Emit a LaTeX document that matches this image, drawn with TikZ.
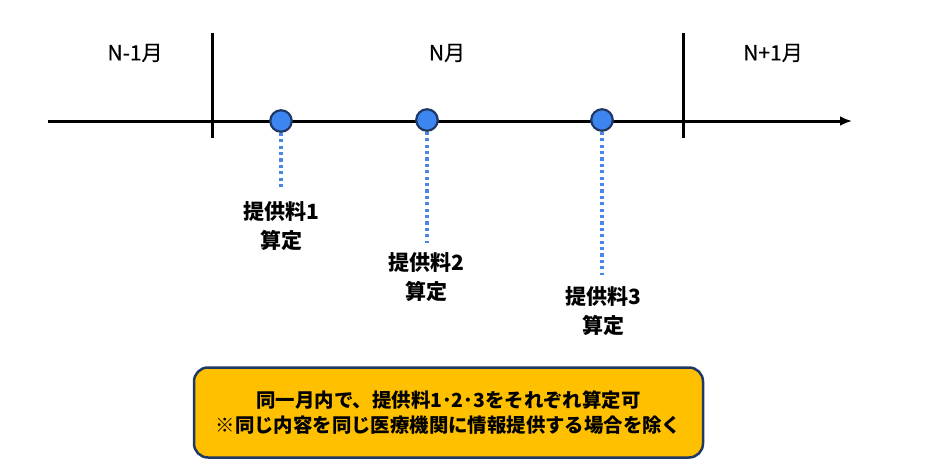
\documentclass[tikz,border=0pt]{standalone}
\usepackage{fontspec}
\setmainfont{Noto Sans CJK JP}
\newfontfamily\medfont[FakeBold=0.5]{Noto Sans CJK JP}
\usetikzlibrary{arrows.meta}
\definecolor{dotblue}{HTML}{4A86E8}
\definecolor{circfill}{HTML}{3D85F0}
\definecolor{navy}{HTML}{1F3864}
\definecolor{boxfill}{HTML}{FFC000}
\tikzset{
  axisline/.style={line width=3pt, black},
  tickline/.style={line width=3pt, black},
  event/.style={circle, draw=navy, fill=circfill, line width=2.2pt, minimum size=21.5pt, inner sep=0pt},
  guide/.style={dotblue, line width=3.2pt, dash pattern=on 3.2pt off 3.2pt},
  lbl/.style={font=\bfseries\fontsize{21}{29}\selectfont, align=center, inner sep=0pt},
  month/.style={font=\medfont\fontsize{21}{24}\selectfont, inner sep=0pt},
  notebox/.style={draw=navy, fill=boxfill, line width=2.5pt, rounded corners=14pt, minimum width=509pt, minimum height=90pt, align=center, font=\bfseries\fontsize{19.4}{25.5}\selectfont, inner sep=0pt}
}
\begin{document}
\begin{tikzpicture}[x=1pt,y=-1pt]
\useasboundingbox (0,0) rectangle (946,466);
% axis
\coordinate (axs) at (48,121);
\coordinate (axe) at (852,121);
\draw[axisline, -{Latex[length=12pt,width=10pt]}] (axs) -- (axe);
% ticks
\coordinate (t1a) at (212,33); \coordinate (t1b) at (212,138);
\coordinate (t2a) at (683,33); \coordinate (t2b) at (683,138);
\draw[tickline] (t1a) -- (t1b);
\draw[tickline] (t2a) -- (t2b);
% months
\node[month] (m1) at (135,53) {N-1月};
\node[month] (m2) at (447,53) {N月};
\node[month] (m3) at (773,53) {N+1月};
% guides end points
\coordinate (g1) at (281,190);
\coordinate (g2) at (427,243);
\coordinate (g3) at (602,275);
% event circles
\node[event] (e1) at (281,121) {};
\node[event] (e2) at (427,120) {};
\node[event] (e3) at (602,120) {};
\draw[guide] (e1.south) -- (g1);
\draw[guide] (e2.south) -- (g2);
\draw[guide] (e3.south) -- (g3);
% labels
\node[lbl] (l1) at (281,226.5) {提供料1\\算定};
\node[lbl] (l2) at (426,277) {提供料2\\算定};
\node[lbl] (l3) at (603,311.5) {提供料3\\算定};
% note
\node[notebox] (note) at (448.5,412.5) {同一月内で、提供料1･2･3をそれぞれ算定可\\※同じ内容を同じ医療機関に情報提供する場合を除く};
\end{tikzpicture}
\end{document}
